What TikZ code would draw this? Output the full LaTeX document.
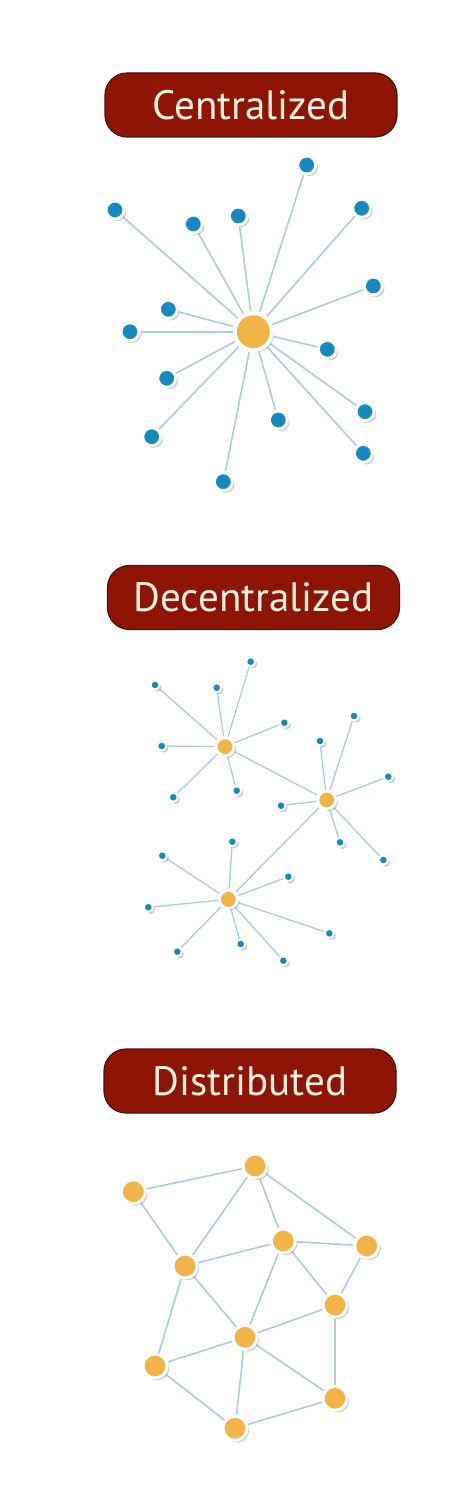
\documentclass[tikz,border=0pt]{standalone}
\usepackage{fontspec}
\setmainfont{PT Sans}
\usetikzlibrary{shadows}
\definecolor{lblred}{RGB}{142,20,6}
\definecolor{lbledge}{RGB}{70,20,10}
\definecolor{lbltext}{RGB}{253,243,226}
\definecolor{nodeblue}{RGB}{22,138,190}
\definecolor{nodeorange}{RGB}{240,180,72}
\definecolor{linkblue}{RGB}{172,204,224}
\pgfdeclarelayer{bg}
\pgfdeclarelayer{paper}
\pgfsetlayers{paper,bg,main}
\tikzset{
  shad/.style={drop shadow={shadow xshift=2.2pt, shadow yshift=-2.2pt, opacity=0.32, fill=black!60}},
  label box/.style={draw=lbledge, line width=1.2pt, fill=lblred, rounded corners=22pt,
    minimum width=292pt, minimum height=64pt, inner sep=0pt,
    text=lbltext, font=\fontsize{41}{41}\selectfont},
  cblue/.style={circle, fill=nodeblue, draw=white, line width=3pt, minimum size=18pt, inner sep=0pt, shad},
  chub/.style={circle, fill=nodeorange, draw=white, line width=4pt, minimum size=37pt, inner sep=0pt, shad},
  dblue/.style={circle, fill=nodeblue, draw=white, line width=2pt, minimum size=9pt, inner sep=0pt, shad},
  dhub/.style={circle, fill=nodeorange, draw=white, line width=3pt, minimum size=18pt, inner sep=0pt, shad},
  dist/.style={circle, fill=nodeorange, draw=white, line width=3pt, minimum size=24pt, inner sep=0pt, shad},
  link/.style={draw=linkblue, line width=1.6pt},
  thinlink/.style={draw=linkblue, line width=1.3pt},
}
\begin{document}
\begin{tikzpicture}[x=1pt,y=-1pt]
\begin{pgfonlayer}{paper}
\fill[white] (0,0) rectangle (474,1503);
\end{pgfonlayer}
\useasboundingbox (0,0) rectangle (474,1503);

% ---------- Centralized ----------
\node[label box] (t1) at (251,105) {Centralized};
\node[chub] (c) at (253.3,331.7) {};
\foreach \n/\x/\y in {c1/306.7/165, c2/115/210, c3/193.3/224, c4/238.3/216, c5/361.7/208.3,
  c6/373.3/286, c7/168.3/309.3, c8/130/331.7, c9/327.3/349.3, c10/166.7/378.3,
  c11/151.7/436.7, c12/278.3/420, c13/365/411.7, c14/363.3/453.3, c15/223.3/481.7}
  {\node[cblue] (\n) at (\x,\y) {};}
\begin{pgfonlayer}{bg}
\foreach \n in {c1,c2,c3,c4,c5,c6,c7,c8,c9,c10,c11,c12,c13,c14,c15}
  \draw[link] (c) -- (\n);
\end{pgfonlayer}

% ---------- Decentralized ----------
\node[label box] (t2) at (253.5,597.5) {Decentralized};
\node[dhub] (ha) at (225,746.7) {};
\node[dhub] (hb) at (326.7,800) {};
\node[dhub] (hc) at (228.3,899.3) {};
\foreach \n/\x/\y in {a1/155/685, a2/216.7/687.7, a3/250.7/661.7, a4/284.3/722.7,
  a5/161.7/746, a6/173.3/797.3, a7/236.7/790.7}
  {\node[dblue] (\n) at (\x,\y) {};}
\foreach \n/\x/\y in {b1/320/741, b2/354/716, b3/388.3/776.7, b4/281/805.7,
  b5/340/842.3, b6/383.3/860}
  {\node[dblue] (\n) at (\x,\y) {};}
\foreach \n/\x/\y in {e1/232.3/841.7, e2/162.3/855.7, e3/288.3/876.7, e4/148.3/907.3,
  e5/329.3/933.3, e6/177.3/951.7, e7/240.7/944, e8/283.3/960.7}
  {\node[dblue] (\n) at (\x,\y) {};}
\begin{pgfonlayer}{bg}
\foreach \n in {a1,a2,a3,a4,a5,a6,a7} \draw[thinlink] (ha) -- (\n);
\foreach \n in {b1,b2,b3,b4,b5,b6} \draw[thinlink] (hb) -- (\n);
\foreach \n in {e1,e2,e3,e4,e5,e6,e7,e8} \draw[thinlink] (hc) -- (\n);
\draw[thinlink] (ha) -- (hb);
\draw[thinlink] (hb) -- (hc);
\end{pgfonlayer}

% ---------- Distributed ----------
\node[label box] (t3) at (250,1081) {Distributed};
\foreach \n/\x/\y in {n1/133.3/1191.7, n2/255/1166, n3/283.3/1241, n4/366.7/1246,
  n5/185/1266, n6/335/1305, n7/245/1337.3, n8/155/1366, n9/335/1398.3, n10/235/1428.3}
  {\node[dist] (\n) at (\x,\y) {};}
\begin{pgfonlayer}{bg}
\foreach \a/\b in {n1/n2, n1/n5, n2/n5, n2/n3, n2/n4, n5/n3, n3/n4, n3/n6, n3/n7,
  n4/n6, n5/n7, n5/n8, n7/n6, n7/n8, n7/n10, n7/n9, n6/n9, n8/n10, n10/n9}
  \draw[link] (\a) -- (\b);
\end{pgfonlayer}
\end{tikzpicture}
\end{document}
